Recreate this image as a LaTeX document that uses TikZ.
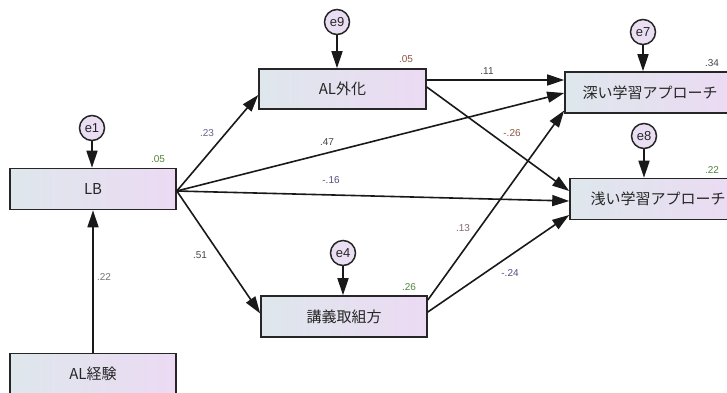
\documentclass[tikz,border=0pt]{standalone}
\usepackage{fontspec}
\setmainfont{Liberation Sans}
\newfontfamily\jp{Noto Sans CJK JP}
\usetikzlibrary{arrows.meta}
\definecolor{boxL}{RGB}{222,231,236}
\definecolor{boxR}{RGB}{236,218,243}
\definecolor{errfill}{RGB}{234,222,242}
\definecolor{lgreen}{RGB}{80,135,60}
\definecolor{lbrown}{RGB}{140,85,65}
\definecolor{lpurple}{RGB}{100,100,140}
\definecolor{ldark}{RGB}{70,70,70}
\definecolor{lgray}{RGB}{115,115,115}
\definecolor{lblue}{RGB}{80,80,130}
\definecolor{lbgray}{RGB}{130,105,105}
\tikzset{
  varbox/.style={draw=black!85, line width=1.6pt, left color=boxL, right color=boxR,
    minimum height=41pt, inner sep=0pt, font=\jp\fontsize{15}{18}\selectfont, text=black!85},
  errnode/.style={circle, draw=black!85, line width=1.5pt, fill=errfill, minimum size=25pt,
    inner sep=0pt, font=\fontsize{13}{15}\selectfont, text=black!85},
  path/.style={line width=1.6pt, draw=black!90, -{Triangle[length=17pt,width=11pt]}},
  coef/.style={font=\fontsize{10}{12}\selectfont, inner sep=0pt}
}
\begin{document}
\begin{tikzpicture}[x=1pt,y=-1pt]
\useasboundingbox (0,0) rectangle (727,392);
\clip (0,0) rectangle (727,392);
\fill[white] (0,0) rectangle (727,392);
% boxes
\node[varbox, minimum width=166pt] (LB) at (93,189) {LB};
\node[varbox, minimum width=167pt, minimum height=40pt] (ALg) at (342.5,89) {AL外化};
\node[varbox, minimum width=166pt] (kougi) at (344,316.5) {講義取組方};
\node[varbox, minimum width=166pt] (ALe) at (93,374) {AL経験};
\node[varbox, minimum width=170pt] (deep) at (650,92.5) {深い学習アプローチ};
\node[varbox, minimum width=176pt] (shallow) at (658,199) {浅い学習アプローチ};
% error terms
\node[errnode] (e1) at (92,128) {e1};
\node[errnode] (e9) at (337,22) {e9};
\node[errnode] (e7) at (643,32) {e7};
\node[errnode] (e8) at (644,136) {e8};
\node[errnode] (e4) at (343,253) {e4};
% error arrows
\draw[path] (e1) -- (e1 |- LB.north);
\draw[path] (e9) -- (e9 |- ALg.north);
\draw[path] (e7) -- (e7 |- deep.north);
\draw[path] (e8) -- (e8 |- shallow.north);
\draw[path] (e4) -- (e4 |- kougi.north);
% structural paths
\draw[path] (ALe.north) -- (LB.south);
\draw[path] ([yshift=-2pt]LB.east) -- ([yshift=-6pt]ALg.west);
\draw[path] ([yshift=-2pt]LB.east) -- ([yshift=3pt]kougi.west);
\draw[path] ([yshift=-2pt]LB.east) -- ([yshift=-0.5pt]deep.west);
\draw[path] ([yshift=-2pt]LB.east) -- ([yshift=-2pt]shallow.west);
\draw[path] ([yshift=9pt]ALg.east) -- ([yshift=12.5pt]deep.west);
\draw[path] ([yshift=2pt]ALg.east) -- ([yshift=8pt]shallow.west);
\draw[path] ([yshift=16.5pt]kougi.east) -- ([yshift=-18pt]deep.west);
\draw[path] ([yshift=4.5pt]kougi.east) -- ([yshift=-16pt]shallow.west);
% coefficients
\node[coef, text=lgreen] (r1) at (158,159) {.05};
\node[coef, text=lbrown] (r9) at (406,59) {.05};
\node[coef, text=ldark] (r7) at (712,63) {.34};
\node[coef, text=lgreen] (r8) at (712,170) {.22};
\node[coef, text=lgreen] (r4) at (409,287) {.26};
\node[coef, text=lpurple] (c1) at (207,133) {.23};
\node[coef, text=ldark] (c2) at (327,142) {.47};
\node[coef, text=lblue] (c3) at (331,180) {-.16};
\node[coef, text=ldark] (c4) at (200,255) {.51};
\node[coef, text=lgray] (c5) at (104,277) {.22};
\node[coef, text=ldark] (c6) at (487,71) {.11};
\node[coef, text=lbrown] (c7) at (512,133) {-.26};
\node[coef, text=lbgray] (c8) at (463,228) {.13};
\node[coef, text=lblue] (c9) at (510,273) {-.24};
\end{tikzpicture}
\end{document}
